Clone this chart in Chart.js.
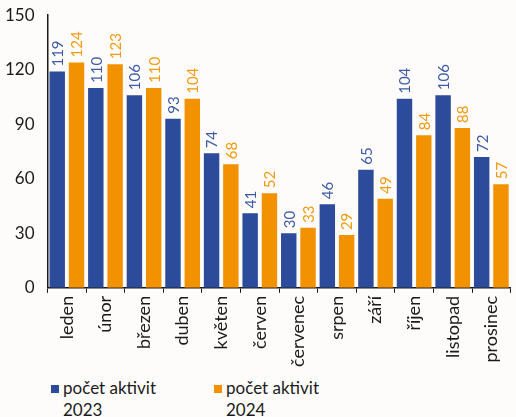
<!DOCTYPE html>
<html>
<head>
<meta charset="utf-8">
<script src="https://cdn.jsdelivr.net/npm/chart.js@4"></script>
<style>
  body { margin: 0; background: #fdfcfb; font-family: Lato, "Noto Sans", sans-serif; }
  #wrap { position: relative; width: 516px; height: 417px; }
  #legend { position: absolute; left: 51px; top: 377px; display: flex; font-size: 17px; color: #1a1a1a; line-height: 22px; }
  .item { display: flex; width: 163px; }
  .box { width: 8px; height: 8px; margin-top: 8px; margin-right: 4px; }
</style>
</head>
<body>
<div id="wrap">
  <canvas id="graf" width="516" height="372"></canvas>
  <div id="legend"></div>
</div>
<script>
// Měsíce a hodnoty
const mesice = ['leden', 'únor', 'březen', 'duben', 'květen', 'červen', 'červenec', 'srpen', 'září', 'říjen', 'listopad', 'prosinec'];
const aktivity2023 = [119, 110, 106, 93, 74, 41, 30, 46, 65, 104, 106, 72];
const aktivity2024 = [124, 123, 110, 104, 68, 52, 33, 29, 49, 84, 88, 57];
const nazvy = ['počet aktivit 2023', 'počet aktivit 2024'];
const barvy = ['#2c4b9b', '#f39200'];
const barvyPopisku = ['#3d5ba8', '#f39a10'];

// Svislé popisky nad sloupci
const popisky = {
    id: 'popisky',
    afterDatasetsDraw(chart) {
        const ctx = chart.ctx;
        chart.data.datasets.forEach((ds, i) => {
            chart.getDatasetMeta(i).data.forEach((bar, j) => {
                ctx.save();
                ctx.translate(bar.x, bar.y - 5);
                ctx.rotate(-Math.PI / 2);
                ctx.fillStyle = barvyPopisku[i];
                ctx.font = '15px Lato, "Noto Sans", sans-serif';
                ctx.textAlign = 'left';
                ctx.textBaseline = 'middle';
                ctx.fillText(ds.data[j], 0, 1);
                ctx.restore();
            });
        });
    }
};

new Chart(document.getElementById('graf'), {
    type: 'bar',
    data: {
        labels: mesice,
        datasets: [
            { label: nazvy[0], data: aktivity2023, backgroundColor: barvy[0] },
            { label: nazvy[1], data: aktivity2024, backgroundColor: barvy[1] }
        ]
    },
    options: {
        responsive: false,
        animation: false,
        layout: { padding: { top: 12, right: 2, left: 0, bottom: 2 } },
        datasets: { bar: { categoryPercentage: 1, barPercentage: 0.8 } },
        scales: {
            y: {
                min: 0,
                max: 150,
                ticks: { stepSize: 30, color: '#1a1a1a', font: { size: 17, family: 'Lato' }, padding: 5 },
                grid: { display: false },
                border: { color: '#1a1a1a', width: 1.5 }
            },
            x: {
                ticks: { color: '#1a1a1a', font: { size: 18, family: 'Lato' }, minRotation: 90, maxRotation: 90, padding: 3 },
                grid: { offset: true, drawOnChartArea: false, tickLength: 5, color: '#1a1a1a' },
                border: { color: '#1a1a1a', width: 1.5 }
            }
        },
        plugins: {
            legend: { display: false },
            tooltip: { enabled: false }
        }
    },
    plugins: [popisky]
});

// Legenda pod grafem
const leg = document.getElementById('legend');
nazvy.forEach((n, i) => {
    const casti = n.split(' ');
    leg.innerHTML += '<div class="item"><div class="box" style="background:' + barvy[i] + '"></div><div>'
        + casti[0] + ' ' + casti[1] + '<br>' + casti[2] + '</div></div>';
});
</script>
</body>
</html>
